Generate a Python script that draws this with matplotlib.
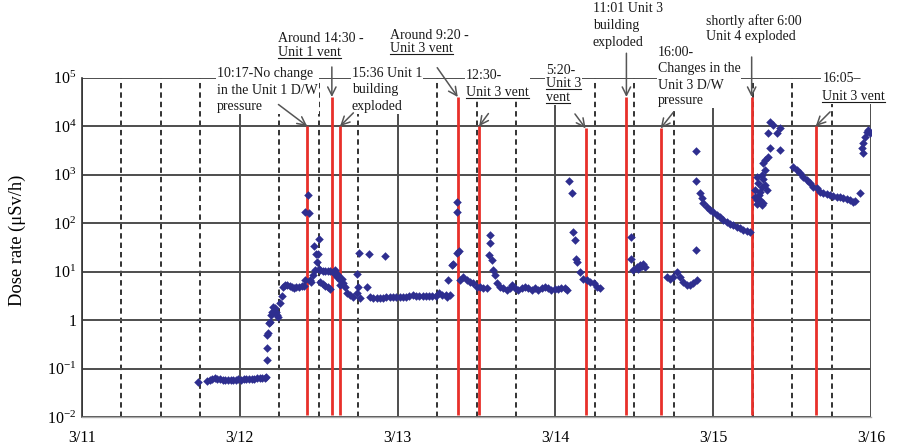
import matplotlib
matplotlib.use("Agg")
import matplotlib.pyplot as plt
from matplotlib.ticker import MultipleLocator, NullLocator
from matplotlib.patches import Rectangle
from matplotlib.lines import Line2D
from matplotlib.transforms import Bbox, IdentityTransform

# ====== DATA (hours since 3/11 00:00, dose rate in uSv/h) ======
dose_hours = [
    # 3/11 evening - 3/12 early morning
    17.7, 19.0, 19.4, 19.8, 20.2, 20.6, 21.0, 21.4, 21.8, 22.2, 22.6, 23.0,
    23.4, 23.8, 24.2, 24.6, 25.0, 25.4, 25.8, 26.2, 26.6, 27.0, 27.4, 27.8, 28.0,
    # rise on 3/12 morning
    28.1, 28.1, 28.2, 28.3, 28.45, 28.55, 28.7, 28.9, 29.1, 29.35, 29.5, 29.7,
    29.85, 30.1, 30.4, 30.6, 30.9, 31.2, 31.6, 31.9, 32.2, 32.6, 33.0, 33.4, 33.7, 33.9,
    # around 10:17 - 15:36
    33.9, 34.3, 34.6, 34.7, 34.9, 35.2, 35.3, 35.45, 35.6, 35.7, 35.9, 36.1,
    36.0, 36.2, 36.6, 37.0, 37.4, 37.7, 36.2, 36.6, 37.0, 37.4, 37.7,
    38.2, 38.5, 38.5, 38.74, 39.0, 39.24, 39.24, 39.5, 39.74, 40.0, 40.26,
    40.76, 41.26, 41.78, 41.78, 42.17, 42.02, 42.28, 43.3, 43.7, 43.8, 44.3, 46.08,
    # 3/13 flat
    44.8, 45.3, 45.8, 46.3, 46.8, 47.3, 47.8, 48.3, 48.8, 49.3, 49.8, 50.3,
    50.8, 51.3, 51.8, 52.3, 52.8, 53.3, 53.8, 54.3, 54.8, 55.3, 55.47, 55.7, 55.97,
    # around 9:20 vent
    56.22, 56.47, 56.99, 56.99, 56.99, 57.38, 57.49, 58.0, 58.5, 59.0, 59.5,
    60.0, 60.5, 61.0, 61.55,
    # after 12:30 vent
    61.95, 62.05, 62.05, 62.3, 62.56, 62.81, 63.07, 63.57, 64.08, 64.6, 65.1,
    65.36, 65.86, 66.36, 66.87, 67.38, 67.88, 68.4, 68.9, 69.4, 69.9, 70.4,
    70.9, 71.4, 71.9, 72.4, 72.9, 73.4, 73.8,
    # 3/14 morning
    74.1, 74.5, 74.7, 75.0, 75.2, 75.3, 75.7, 76.2, 76.8, 77.3, 77.8, 78.3, 78.8,
    # after 11:01 explosion
    83.45, 83.45, 83.85, 84.36, 84.6, 84.86, 85.1, 85.37, 85.63,
    # after 16:00
    88.93, 89.43, 89.93, 90.45, 90.96, 91.46, 91.97, 92.47, 92.97, 93.49, 93.38,
    # 3/14 night - 3/15 morning
    93.38, 93.38, 94.0, 94.25, 94.5, 95.0, 95.52, 96.02, 96.53, 97.03, 97.53,
    98.05, 98.56, 99.06, 99.57, 100.07, 100.58, 101.09, 101.6,
    # after 6:00 Unit 4
    102.36, 102.4, 102.6, 102.61, 102.61, 102.87, 102.9, 103.12, 103.12, 103.38,
    103.38, 103.4, 103.62, 103.62, 103.62, 103.88, 103.88, 103.9, 104.13,
    104.38, 104.38, 104.64, 104.64, 105.14, 105.66, 106.17, 106.17,
    # 3/15 afternoon
    108.18, 108.69, 109.2, 109.7, 110.22, 110.72, 111.22, 111.74, 112.24,
    112.74, 113.26, 113.76, 114.26, 114.78, 115.28, 115.78, 116.3, 116.8,
    117.31, 117.57, 118.33,
    # 3/15 night
    118.58, 118.83, 118.83, 119.09, 119.34, 119.59, 119.85,
]
dose_values = [
    0.053, 0.055, 0.058, 0.062, 0.063, 0.061, 0.060, 0.059, 0.058, 0.058, 0.059, 0.058,
    0.059, 0.060, 0.059, 0.060, 0.061, 0.061, 0.062, 0.062, 0.063, 0.063, 0.064, 0.065, 0.066,
    0.148, 0.266, 0.49, 0.54, 0.85, 0.92, 1.26, 1.47, 1.87, 1.8, 1.45, 1.3,
    1.16, 2.2, 3.1, 4.8, 5.2, 5.3, 5.0, 4.8, 4.6, 4.9, 4.9, 5.0, 5.0, 6.6,
    171, 378, 158, 6.8, 6.1, 8.7, 34, 11, 23.5, 15.8, 22.9, 46,
    11.5, 10.7, 10.5, 10.5, 10.3, 10.3, 6.2, 5.6, 5.0, 4.7, 4.4,
    9.9, 9.1, 10.7, 7.9, 8.4, 6.65, 5.25, 7.2, 5.8, 4.84, 3.6,
    3.3, 3.0, 3.6, 9.1, 24.6, 4.84, 2.85, 4.84, 23, 3.0, 2.85, 21,
    2.9, 2.85, 2.9, 3.0, 3.0, 2.95, 3.0, 3.0, 3.05, 3.0, 3.1, 3.3,
    3.1, 3.1, 3.2, 3.1, 3.2, 3.1, 3.2, 3.6, 3.3, 3.3, 3.0, 6.65, 3.3,
    13.6, 14.6, 24.6, 275, 170, 26, 6.65, 7.9, 6.65, 6.2, 5.8,
    4.84, 4.8, 4.5, 4.5,
    22, 56, 38, 17, 10.7, 8.5, 5.8, 4.84, 4.5, 4.2, 4.5,
    5.25, 4.5, 4.2, 4.5, 4.84, 4.5, 4.2, 4.5, 4.2, 4.5, 4.84,
    4.5, 4.2, 4.3, 4.3, 4.5, 4.5, 4.2,
    746, 422, 66, 45, 18.6, 16, 10, 7.2, 6.65, 6.2, 5.8, 4.84, 4.5,
    50.6, 18.6, 10.7, 12.5, 11.5, 13.6, 13.0, 14.6, 12.5,
    7.8, 7.2, 7.8, 10, 7.8, 6.2, 5.25, 5.25, 5.8, 6.65, 28,
    3070, 746, 422, 324, 257, 219, 187, 166, 146, 131, 115,
    107, 98, 91, 84, 78, 72, 68, 66,
    480, 350, 250, 904, 296, 660, 380, 296, 443, 235,
    980, 560, 257, 830, 1700, 1240, 2000, 600, 480,
    2340, 7100, 3470, 12300, 10500, 7200, 9000, 3300,
    1450, 1240, 1060, 904, 773, 660, 563, 520, 443,
    417, 398, 378, 361, 346, 339, 324, 309, 299,
    276, 280, 422,
    3470, 2750, 4430, 6030, 7670, 8320, 7100,
]

# events (red lines)
event_hours = [34.25, 38.0, 39.25, 57.15, 60.4, 76.6, 82.8, 88.0, 101.85, 111.6]
event_tops = [1e4, 4e4, 1e4, 4e4, 1e4, 9e3, 4e4, 9e3, 4e4, 1e4]
event_texts = [
    ["10:17-No change", "in the Unit 1 D/W", "pressure"],
    ["Around 14:30 -", "Unit 1 vent"],
    ["15:36 Unit 1", "building", "exploded"],
    ["Around 9:20 -", "Unit 3 vent"],
    ["12:30-", "Unit 3 vent"],
    ["5:20-", "Unit 3", "vent"],
    ["11:01 Unit 3", "building", "exploded"],
    ["16:00-", "Changes in the", "Unit 3 D/W", "pressure"],
    ["shortly after 6:00", "Unit 4 exploded"],
    ["16:05\u2013", "Unit 3 vent"],
]
underlined = {"Unit 1 vent", "Unit 3 vent", "Unit 3", "vent"}

day_labels = ["3/11", "3/12", "3/13", "3/14", "3/15", "3/16"]
decades = [1e-2, 1e-1, 1, 1e1, 1e2, 1e3, 1e4, 1e5]
decade_labels = ["$10^{-2}$", "$10^{-1}$", "1", "$10^{1}$", "$10^{2}$",
                 "$10^{3}$", "$10^{4}$", "$10^{5}$"]

# ====== LAYOUT (pixels, top-down) ======
W, H = 897, 445
text_left = [217, 277.7, 351.7, 390, 466, 545.7, 592.7, 657.7, 705.7, 822.3]
text_centers = [
    [73, 89.5, 106], [38.3, 51.7], [73, 89.5, 106], [35, 48.3], [75, 91.7],
    [70, 83.3, 96.7], [8.3, 25, 41.7], [51.7, 67.7, 85, 100], [20.7, 36], [78.3, 95.7],
]
arrow_offsets = [(-20.7, 15.6), (0, 21.6), (9.6, 9.6), (-14.8, 21.1), (6.7, 9.1),
                 (-7.7, 10.4), (0, 31.5), (9.1, 11.5), (0, 28.8), (10.3, 10.3)]

plt.rcParams["font.family"] = ["Liberation Serif", "DejaVu Serif"]
plt.rcParams["mathtext.fontset"] = "custom"
plt.rcParams["mathtext.rm"] = "Liberation Serif"
plt.rcParams["mathtext.it"] = "Liberation Serif:italic"

fig = plt.figure(figsize=(W / 100, H / 100), dpi=100)
ax = fig.add_axes([82 / W, 1 - 417 / H, 789 / W, 339.3 / H])

ax.set_yscale("log")
ax.set_xlim(0, 120)
ax.set_ylim(1e-2, 1e5)
ax.set_axisbelow(True)

ax.set_xticks([24 * i for i in range(len(day_labels))], day_labels, fontsize=11.5)
ax.xaxis.set_minor_locator(MultipleLocator(6))
ax.set_yticks(decades, decade_labels, fontsize=11.5)
ax.yaxis.set_minor_locator(NullLocator())
ax.tick_params(which="both", length=0)
ax.tick_params(axis="x", pad=9)
ax.tick_params(axis="y", pad=4)

ax.grid(which="major", axis="both", color="#4d4d4d", lw=1.4, ls="-")
ax.grid(which="minor", axis="x", color="#222222", lw=1.3, ls=(0, (3, 2.2)))

for side in ["top", "right"]:
    ax.spines[side].set_visible(False)
ax.spines["left"].set_color("#333333")
ax.spines["left"].set_linewidth(1.2)
ax.spines["bottom"].set_color("#aaaaaa")
ax.spines["bottom"].set_linewidth(1.0)

ax.set_ylabel("Dose rate (\u03bcSv/h)", fontsize=13.3)
ax.yaxis.set_label_coords(-0.071, 0.522)

# red event lines
ax.vlines(event_hours, 0.011, event_tops, colors="#e8302a", lw=2.0, zorder=2)

# measurements
ax.scatter(dose_hours, dose_values, marker="D", s=19, color="#2e2e8f",
           linewidths=0, zorder=2.5)

# ====== ANNOTATIONS ======
renderer = fig.canvas.get_renderer()
for i in range(len(event_hours)):
    texts = []
    for line, yc in zip(event_texts[i], text_centers[i]):
        t = ax.text(text_left[i] / W, 1 - (yc + 4) / H, line, transform=fig.transFigure,
                    fontsize=10, color="#1a1a1a", ha="left", va="baseline",
                    zorder=4, clip_on=False)
        texts.append((t, line, yc))
    boxes = [t.get_window_extent(renderer) for t, _, _ in texts]
    bb = Bbox.union(boxes)
    ax.add_patch(Rectangle((bb.x0 - 1, bb.y0 - 1), bb.width + 2, bb.height + 2,
                           transform=IdentityTransform(), facecolor="white",
                           edgecolor="none", zorder=3, clip_on=False))
    for (t, line, yc), b in zip(texts, boxes):
        if line in underlined:
            ybase = H - (yc + 4) - 2
            ax.add_line(Line2D([b.x0, b.x1], [ybase, ybase], transform=IdentityTransform(),
                               color="#1a1a1a", lw=0.8, zorder=4, clip_on=False))
    ax.annotate("", xy=(event_hours[i], event_tops[i]), xytext=arrow_offsets[i],
                textcoords="offset points", annotation_clip=False, zorder=5,
                arrowprops=dict(arrowstyle="->,head_length=0.6,head_width=0.3",
                                color="#555555", lw=1.1, shrinkA=0, shrinkB=0,
                                mutation_scale=10))

fig.savefig("out.png", dpi=100)
